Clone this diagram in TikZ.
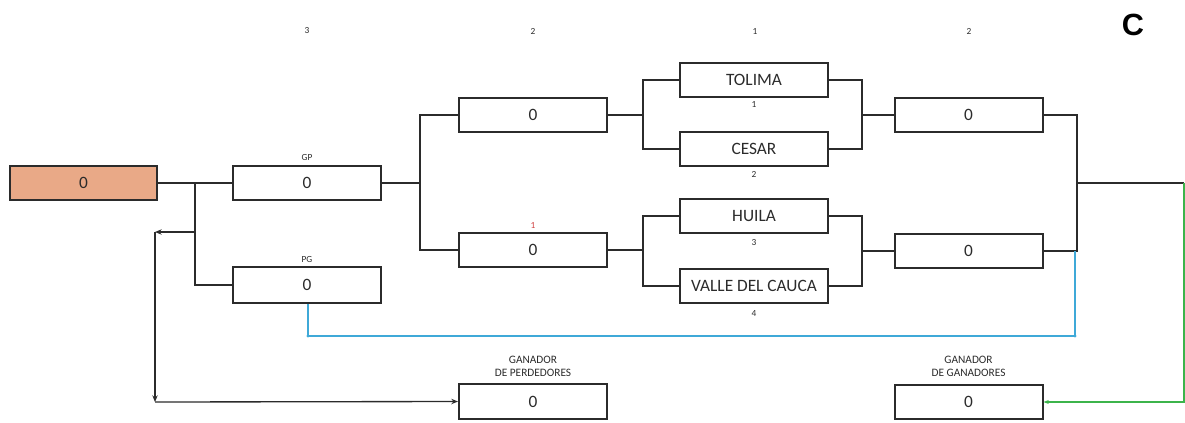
\documentclass[tikz,border=0pt]{standalone}
\usepackage{fontspec}
\setmainfont{Carlito}
\newfontfamily\arialbold{Liberation Sans}[BoldFont={Liberation Sans Bold}]
\usetikzlibrary{arrows.meta}
\definecolor{ink}{HTML}{2B2B2B}
\definecolor{srcfill}{HTML}{E9A987}
\definecolor{bluel}{HTML}{3FA9D8}
\definecolor{greenl}{HTML}{3CB44B}
\definecolor{redl}{HTML}{D04040}
\tikzset{
  box/.style={draw=ink, line width=1.5pt, minimum width=111pt, minimum height=25.5pt, inner sep=0pt, font=\fontsize{13}{15}\selectfont, text=ink},
  lbl/.style={inner sep=0pt, font=\fontsize{7}{8}\selectfont, text=ink},
  glbl/.style={inner sep=0pt, align=center, font=\fontsize{8.5}{9.75}\selectfont, text=ink},
  conn/.style={draw=ink, line width=1.5pt},
  thin/.style={draw=ink, line width=1pt, -{Stealth[length=5pt,width=4pt]}},
  blue/.style={draw=bluel, line width=1pt},
  green/.style={draw=greenl, line width=1.2pt},
}
\begin{document}
\begin{tikzpicture}[x=0.75pt,y=-0.75pt]
\useasboundingbox (0,0) rectangle (1185,422);

% boxes
\node[box, fill=srcfill, minimum width=110pt] (src) at (83.5,183) {0};
\node[box] (gp) at (307,183) {0};
\node[box, minimum height=26.5pt] (pg) at (307,285) {0};
\node[box] (a1) at (533,114.5) {0};
\node[box] (a2) at (533,250) {0};
\node[box] (tol) at (754,80) {TOLIMA};
\node[box] (ces) at (754,149) {CESAR};
\node[box] (hui) at (754,216) {HUILA};
\node[box] (val) at (754,285.5) {VALLE DEL CAUCA};
\node[box] (b1) at (968.5,114.5) {0};
\node[box] (b2) at (968.5,250.5) {0};
\node[box, minimum height=26pt] (gl) at (533,401.5) {0};
\node[box] (gw) at (968.5,402) {0};

% labels
\node[lbl] (t3) at (307,31) {3};
\node[lbl] (t2a) at (533,31) {2};
\node[lbl] (t1) at (755,31) {1};
\node[lbl] (t2b) at (969,31) {2};
\node[inner sep=0pt, font=\arialbold\bfseries\fontsize{23}{26}\selectfont] (cc) at (1133,25) {C};
\node[lbl] (lgp) at (307,157) {GP};
\node[lbl] (lpg) at (307,259) {PG};
\node[lbl, text=redl] (lr) at (533,225) {1};
\node[lbl] (n1l) at (754,104) {1};
\node[lbl] (n2l) at (754,174) {2};
\node[lbl] (n3l) at (754,242) {3};
\node[lbl] (n4l) at (754,313) {4};
\node[glbl] (lgl) at (533,366.5) {GANADOR\\DE PERDEDORES};
\node[glbl] (lgw) at (968.5,366.5) {GANADOR\\DE GANADORES};

% junction coordinates
\coordinate (j1) at (195,183);
\coordinate (j2) at (195,232);
\coordinate (c1) at (155,232);
\coordinate (c2) at (155,402);
\coordinate (k1) at (420,183);
\coordinate (m1) at (643,114.5);
\coordinate (m2) at (643,250);
\coordinate (n1) at (862,114.5);
\coordinate (n2) at (862,250.5);
\coordinate (p1) at (1077,183);
\coordinate (q1) at (1184,183);
\coordinate (bb1) at (1075,250.5);
\coordinate (bb2) at (1075,336);
\coordinate (bb3) at (308,336);

% connectors
\draw[conn] (src.east) -- (gp.west);
\draw[conn] (j1) |- (pg.west);
\draw[conn] (gp.east) -- (k1);
\draw[conn] (a1.west) -| (k1) |- (a2.west);
\draw[conn] (a1.east) -- (m1);
\draw[conn] (tol.west) -| (m1) |- (ces.west);
\draw[conn] (a2.east) -- (m2);
\draw[conn] (hui.west) -| (m2) |- (val.west);
\draw[conn] (tol.east) -| (n1) |- (ces.east);
\draw[conn] (n1) -- (b1.west);
\draw[conn] (hui.east) -| (n2) |- (val.east);
\draw[conn] (n2) -- (b2.west);
\draw[conn] (b1.east) -| (p1) |- (b2.east);
\draw[conn] (p1) -- (q1);

% loser path arrows
\draw[thin] (j2) -- (c1);
\draw[thin] (c1) -- (c2);
\draw[thin] (c2) -- (gl.west);

% blue path
\draw[blue] (bb1) -- (bb2) -- (bb3) -- (bb3 |- pg.south);
\fill[bluel] (bb2) circle (1.6);
\fill[bluel] (bb3) circle (1.6);

% green path
\draw[green, -{Stealth[length=4pt,width=3pt]}] (q1) |- (gw.east);
\end{tikzpicture}
\end{document}
